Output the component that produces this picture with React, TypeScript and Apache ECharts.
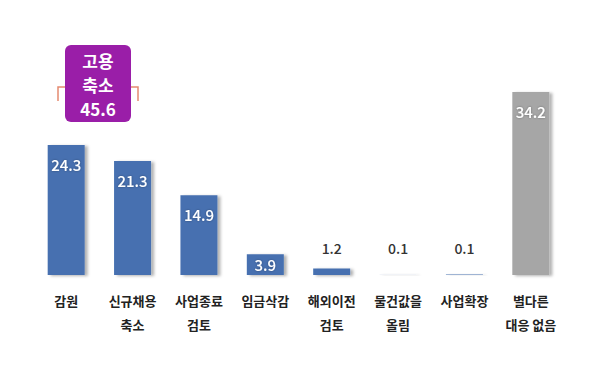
import React, { useEffect, useRef } from "react";
import * as echarts from "echarts";

const categories = ["감원", "신규채용\n축소", "사업종료\n검토", "임금삭감", "해외이전\n검토", "물건값을\n올림", "사업확장", "별다른\n대응 없음"];
const values = [24.3, 21.3, 14.9, 3.9, 1.2, 0.1, 0.1, 34.2];
const barColors = ["#4670b0", "#4670b0", "#4670b0", "#4670b0", "#4670b0", "#e8ecf3", "#4670b0", "#a6a6a6"];
const labelInside = [true, true, true, true, false, false, false, true];
const calloutLines = ["고용", "축소", "45.6"];

const FONT = "'Noto Sans CJK KR', 'Noto Sans', sans-serif";

export default function App() {
  const ref = useRef<HTMLDivElement>(null);
  useEffect(() => {
    if (!ref.current) return;
    const chart = echarts.init(ref.current, undefined, { renderer: "svg" });
    const data = values.map((v, i) => {
      const inside = labelInside[i];
      const small = v < 5;
      return {
        value: v,
        itemStyle: { color: barColors[i] },
        label: inside
          ? {
              show: true,
              position: small ? "inside" : "insideTop",
              distance: 12,
              color: "#ffffff",
              fontSize: 15,
              fontWeight: 500,
              fontFamily: FONT,
              textShadowColor: "rgba(0,0,0,0.35)",
              textShadowBlur: 2,
            }
          : {
              show: true,
              position: "top",
              distance: 20 - v * 5.35,
              color: "#333333",
              fontSize: 14,
              fontWeight: 500,
              fontFamily: FONT,
            },
      };
    });
    chart.setOption({
      animation: false,
      grid: { left: 33, right: 36, top: 7.5, bottom: 99, containLabel: false },
      xAxis: {
        type: "category",
        data: categories,
        axisLine: { show: false },
        axisTick: { show: false },
        axisLabel: {
          interval: 0,
          margin: 13,
          fontSize: 13,
          fontWeight: "bold",
          color: "#222222",
          lineHeight: 24,
          fontFamily: FONT,
        },
      },
      yAxis: { type: "value", min: 0, max: 50, show: false, splitLine: { show: false } },
      series: [
        {
          type: "bar",
          data,
          barWidth: 37,
          itemStyle: {
            shadowColor: "rgba(0,0,0,0.3)",
            shadowBlur: 3,
            shadowOffsetX: 3,
            shadowOffsetY: 1,
          },
        },
      ],
      graphic: [
        {
          type: "polyline",
          shape: { points: [[65, 87], [58, 87], [58, 101]] },
          style: { stroke: "#e58a70", lineWidth: 1.5, fill: "none" },
        },
        {
          type: "polyline",
          shape: { points: [[131, 87], [138, 87], [138, 101]] },
          style: { stroke: "#e58a70", lineWidth: 1.5, fill: "none" },
        },
        {
          type: "rect",
          shape: { x: 65, y: 45, width: 66, height: 77, r: 6 },
          style: { fill: "#9a1ea8" },
        },
        {
          type: "text",
          x: 98,
          y: 84,
          style: {
            text: calloutLines.join("\n"),
            fill: "#ffffff",
            font: `bold 17px ${FONT}`,
            lineHeight: 24,
            textAlign: "center",
            textVerticalAlign: "middle",
          },
        },
      ],
    });
    return () => chart.dispose();
  }, []);
  return <div ref={ref} style={{ width: 600, height: 374, margin: -8 }} />;
}
